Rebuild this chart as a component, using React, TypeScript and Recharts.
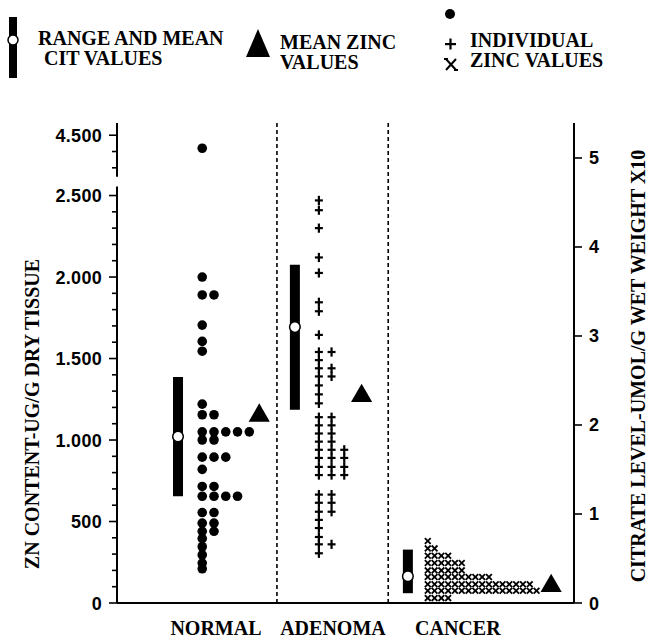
import React from 'react';
import { ComposedChart, Scatter, XAxis, YAxis, ReferenceLine, ErrorBar } from 'recharts';

// groups on the x axis
const groups = ['NORMAL', 'ADENOMA', 'CANCER'];

// citrate range and mean, right axis (umol/g wet weight x10)
const citLow = [1.2, 2.17, 0.11];
const citHigh = [2.54, 3.8, 0.6];
const citMean = [1.87, 3.1, 0.3];

// mean zinc per group, left axis (ug/g dry tissue)
const znMean = [1150, 1270, 105];

// individual zinc values: one row per value, count = markers side by side
const normalZn = [4420, 2000, 1890, 1705, 1605, 1545, 1220, 1155, 1050, 1000, 895, 820, 715, 655, 555, 490, 440, 395, 345, 295, 245, 210];
const normalCount = [1, 1, 2, 1, 1, 1, 1, 2, 5, 2, 3, 1, 2, 4, 2, 2, 2, 1, 1, 1, 1, 1];

const adenomaZn = [2470, 2410, 2300, 2120, 2025, 1845, 1790, 1645, 1540, 1490, 1440, 1390, 1335, 1280, 1225, 1140, 1090, 1040, 990, 940, 890, 835, 785, 665, 615, 560, 510, 460, 405, 360, 305];
const adenomaCount = [1, 1, 1, 1, 1, 1, 1, 1, 2, 1, 2, 2, 1, 1, 1, 2, 2, 2, 2, 3, 3, 3, 3, 2, 2, 2, 1, 1, 1, 2, 1];

const cancerZn = [380, 335, 290, 245, 200, 160, 115, 75, 30];
const cancerCount = [1, 2, 4, 6, 6, 10, 16, 17, 4];

// tick values
const leftMajor = [0, 500, 1000, 1500, 2000, 2500, 4500];
const rightTicks = [0, 1, 2, 3, 4, 5];

// layout (x units across the plot)
const X_MAX = 40;
const barX = [5.34, 15.57, 25.46];
const colX = [7.46, 17.67, 27.2];
const colStep = [1.03, 1.11, 0.595];
const triX = [12.45, 21.41, 38.0];
const dividers = [14.0, 23.74];
const labelX = [8.66, 18.9, 29.83];

// broken left axis: values above 2500 are shifted down
const BREAK_AT = 2500;
const BREAK_SHIFT = 1630;
const zn = (v: number) => (v > BREAK_AT ? v - BREAK_SHIFT : v);
const unzn = (v: number) => (v > BREAK_AT + 50 ? v + BREAK_SHIFT : v);

const LEFT_MAX = 2945;
const RIGHT_MAX = 5.393;

const leftTicks: number[] = [];
for (let v = 0; v <= 2500; v += 100) leftTicks.push(v);
[4300, 4400, 4500].forEach((v) => leftTicks.push(zn(v)));

const serif = '"Liberation Serif", "Times New Roman", serif';
const sans = '"Liberation Sans", Arial, sans-serif';

const fmtZn = (v: number) => (v >= 1000 ? `${Math.floor(v / 1000)}.${String(v % 1000).padStart(3, '0')}` : String(v));

const points = (g: number, values: number[], counts: number[]) =>
  values.flatMap((v, r) =>
    Array.from({ length: counts[r] }, (_, i) => ({ x: colX[g] + i * colStep[g], y: zn(v) }))
  );

const normalPts = points(0, normalZn, normalCount);
const adenomaPts = points(1, adenomaZn, adenomaCount);
const cancerPts = points(2, cancerZn, cancerCount);

const rangeData = groups.map((_, i) => ({
  x: barX[i],
  y: citMean[i],
  err: [citMean[i] - citLow[i], citHigh[i] - citMean[i]],
}));

const meanData = groups.map((_, i) => ({ x: triX[i], y: zn(znMean[i]) }));

const Dot = ({ cx, cy }: any) => <circle cx={cx} cy={cy} r={4.8} fill="#000" />;

const Plus = ({ cx, cy }: any) => (
  <g fill="#000">
    <rect x={cx - 4} y={cy - 1.1} width={8} height={2.2} />
    <rect x={cx - 1.1} y={cy - 4.6} width={2.2} height={9.2} />
  </g>
);

const Cross = ({ cx, cy }: any) => (
  <g stroke="#000" strokeWidth={1.8}>
    <line x1={cx - 2.9} y1={cy - 2.9} x2={cx + 2.9} y2={cy + 2.9} />
    <line x1={cx + 2.9} y1={cy - 2.9} x2={cx - 2.9} y2={cy + 2.9} />
  </g>
);

const Tri = ({ cx, cy }: any) => (
  <path d={`M${cx},${cy - 12.2} L${cx + 10.6},${cy + 6.1} L${cx - 10.6},${cy + 6.1} Z`} fill="#000" />
);

const MeanCircle = ({ cx, cy }: any) => (
  <circle cx={cx} cy={cy} r={5.3} fill="#fff" stroke="#000" strokeWidth={1.5} />
);

const LeftTick = ({ x, y, payload }: any) => {
  const real = unzn(payload.value);
  const major = leftMajor.includes(real);
  return (
    <g>
      <line x1={x - (major ? 8 : 5)} x2={x} y1={y} y2={y} stroke="#000" strokeWidth={1.6} />
      {major && (
        <text x={x - 15} y={y + 6.5} textAnchor="end" fontFamily={sans} fontWeight="bold" fontSize={18} letterSpacing={0.3} fill="#000">
          {fmtZn(real)}
        </text>
      )}
    </g>
  );
};

const RightTick = ({ x, y, payload }: any) => (
  <g>
    <line x1={x} x2={x + 8} y1={y} y2={y} stroke="#000" strokeWidth={1.6} />
    <text x={x + 15} y={y + 6.5} textAnchor="start" fontFamily={sans} fontWeight="bold" fontSize={18} fill="#000">
      {payload.value}
    </text>
  </g>
);

const GroupTick = ({ x, y, index }: any) => (
  <text x={x} y={y + 32} textAnchor="middle" fontFamily={serif} fontWeight="bold" fontSize={20} fill="#000">
    {groups[index]}
  </text>
);

const T = (props: any) => <text fontFamily={serif} fontWeight="bold" fontSize={20} fill="#000" {...props} />;

const Legend = () => (
  <svg width={654} height={644} style={{ position: 'absolute', left: 0, top: 0, pointerEvents: 'none' }}>
    <rect x={9} y={17} width={8} height={61} fill="#000" />
    <circle cx={13} cy={40} r={5} fill="#fff" stroke="#000" strokeWidth={1.5} />
    <T x={38} y={45}>RANGE AND MEAN</T>
    <T x={44} y={65}>CIT VALUES</T>

    <path d="M258,29 L270,57 L246,57 Z" fill="#000" />
    <T x={280} y={49}>MEAN ZINC</T>
    <T x={280} y={69}>VALUES</T>

    <circle cx={450} cy={14} r={5} fill="#000" />
    <rect x={445} y={43} width={11} height={2.2} fill="#000" />
    <rect x={449.4} y={38.5} width={2.2} height={11} fill="#000" />
    <g stroke="#000" strokeWidth={2}>
      <line x1={446} y1={59} x2={456} y2={70} />
      <line x1={456} y1={59} x2={446} y2={70} />
      <line x1={444} y1={59} x2={448} y2={59} />
      <line x1={454} y1={70} x2={458} y2={70} />
    </g>
    <T x={470} y={47}>INDIVIDUAL</T>
    <T x={470} y={67}>ZINC VALUES</T>

    <T transform="translate(39,414) rotate(-90)" textAnchor="middle">ZN CONTENT-UG/G DRY TISSUE</T>
    <T transform="translate(645,366) rotate(-90)" textAnchor="middle">CITRATE LEVEL-UMOL/G WET WEIGHT X10</T>
  </svg>
);

export default function App() {
  return (
    <div style={{ position: 'absolute', left: 0, top: 0, width: 654, height: 644, background: '#fff' }}>
      <ComposedChart width={654} height={644} margin={{ top: 123, right: 0, bottom: 0, left: 0 }}>
        <XAxis
          type="number"
          dataKey="x"
          domain={[0, X_MAX]}
          allowDataOverflow
          ticks={labelX}
          interval={0}
          height={41}
          tickSize={0}
          tickMargin={0}
          tickLine={false}
          axisLine={{ stroke: '#000', strokeWidth: 2 }}
          tick={<GroupTick />}
        />
        <YAxis
          yAxisId="left"
          type="number"
          dataKey="y"
          orientation="left"
          width={117}
          domain={[0, LEFT_MAX]}
          allowDataOverflow
          ticks={leftTicks}
          interval={0}
          tickSize={0}
          tickMargin={0}
          tickLine={false}
          axisLine={false}
          tick={<LeftTick />}
        />
        <YAxis
          yAxisId="right"
          type="number"
          dataKey="y"
          orientation="right"
          width={80}
          domain={[0, RIGHT_MAX]}
          allowDataOverflow
          ticks={rightTicks}
          interval={0}
          tickSize={0}
          tickMargin={0}
          tickLine={false}
          axisLine={{ stroke: '#000', strokeWidth: 2 }}
          tick={<RightTick />}
        />

        {/* left axis drawn in two pieces for the scale break */}
        <ReferenceLine yAxisId="left" segment={[{ x: 0, y: 0 }, { x: 0, y: 2555 }]} stroke="#000" strokeWidth={2} ifOverflow="visible" />
        <ReferenceLine yAxisId="left" segment={[{ x: 0, y: 2615 }, { x: 0, y: LEFT_MAX }]} stroke="#000" strokeWidth={2} ifOverflow="visible" />

        {dividers.map((d) => (
          <ReferenceLine key={d} yAxisId="left" x={d} stroke="#000" strokeWidth={1.6} strokeDasharray="4 3" />
        ))}

        <Scatter yAxisId="right" data={rangeData} shape={<MeanCircle />} isAnimationActive={false}>
          <ErrorBar dataKey="err" direction="y" width={0} strokeWidth={10} stroke="#000" isAnimationActive={false} />
        </Scatter>
        <Scatter yAxisId="left" data={normalPts} shape={<Dot />} isAnimationActive={false} />
        <Scatter yAxisId="left" data={adenomaPts} shape={<Plus />} isAnimationActive={false} />
        <Scatter yAxisId="left" data={cancerPts} shape={<Cross />} isAnimationActive={false} />
        <Scatter yAxisId="left" data={meanData} shape={<Tri />} isAnimationActive={false} />
      </ComposedChart>
      <Legend />
    </div>
  );
}
